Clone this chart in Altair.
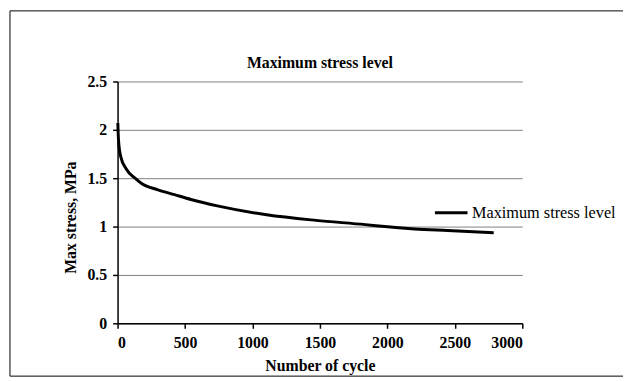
import altair as alt
import pandas as pd

cycles = [2, 7, 24, 62, 129, 178, 300, 422, 544, 739, 1105, 1471, 1837, 1959, 2202, 2446, 2788]
stress = [2.07, 1.89, 1.72, 1.60, 1.50, 1.446, 1.38, 1.33, 1.28, 1.214, 1.122, 1.064, 1.02, 1.003, 0.976, 0.959, 0.936]
series_name = "Maximum stress level"
chart_title = "Maximum stress level"
x_ticks = [0, 500, 1000, 1500, 2000, 2500, 3000]
y_ticks = [0, 0.5, 1, 1.5, 2, 2.5]

FONT = "Liberation Serif"

df = pd.DataFrame({"cycle": cycles, "stress": stress, "series": [series_name] * len(cycles)})

line = alt.Chart(df).mark_line(interpolate="monotone", strokeWidth=3).encode(
    x=alt.X("cycle:Q", scale=alt.Scale(domain=[0, 3000], nice=False),
            axis=alt.Axis(values=x_ticks, format="d", title="Number of cycle", grid=False,
                          titleY=43, titleBaseline="middle", labelPadding=7)),
    y=alt.Y("stress:Q", scale=alt.Scale(domain=[0, 2.5], nice=False),
            axis=alt.Axis(values=y_ticks, format="~g", title="Max stress, MPa", grid=True,
                          titleX=-48, titleY=137.5, titleBaseline="middle", labelPadding=6)),
    color=alt.Color("series:N", scale=alt.Scale(range=["black"]),
                    legend=alt.Legend(orient="none", legendX=320, legendY=115, title=None,
                                      symbolType="stroke", symbolSize=1089, symbolStrokeWidth=3,
                                      labelFont=FONT, labelFontSize=16.5, labelFontWeight="normal",
                                      labelColor="black", labelOffset=3, padding=0)),
)

border = alt.Chart(pd.DataFrame({"a": [0]})).mark_rect(fill=None, stroke="black", strokeWidth=1).encode(
    x=alt.value(-109), x2=alt.value(513), y=alt.value(-71.5), y2=alt.value(298.5)
)

title = alt.Chart(pd.DataFrame({"t": [chart_title]})).mark_text(
    font=FONT, fontSize=16, fontWeight="bold", color="black", align="center", baseline="middle"
).encode(text="t:N", x=alt.value(205), y=alt.value(-19))

chart = alt.layer(border, title, line).properties(
    width=410, height=245,
    autosize=alt.AutoSizeParams(type="none"),
    padding={"left": 111, "top": 72, "right": 102, "bottom": 55},
).configure_view(stroke=None).configure_axis(
    labelFont=FONT, labelFontSize=16, labelFontWeight="bold", labelColor="black",
    titleFont=FONT, titleFontSize=16, titleFontWeight="bold", titleColor="black",
    domainColor="black", domainWidth=1.5, tickColor="black", tickWidth=1.5, tickSize=5,
    gridColor="#808080", gridWidth=1,
)

chart.save("out.html", embed_options={"renderer": "svg", "actions": False})
